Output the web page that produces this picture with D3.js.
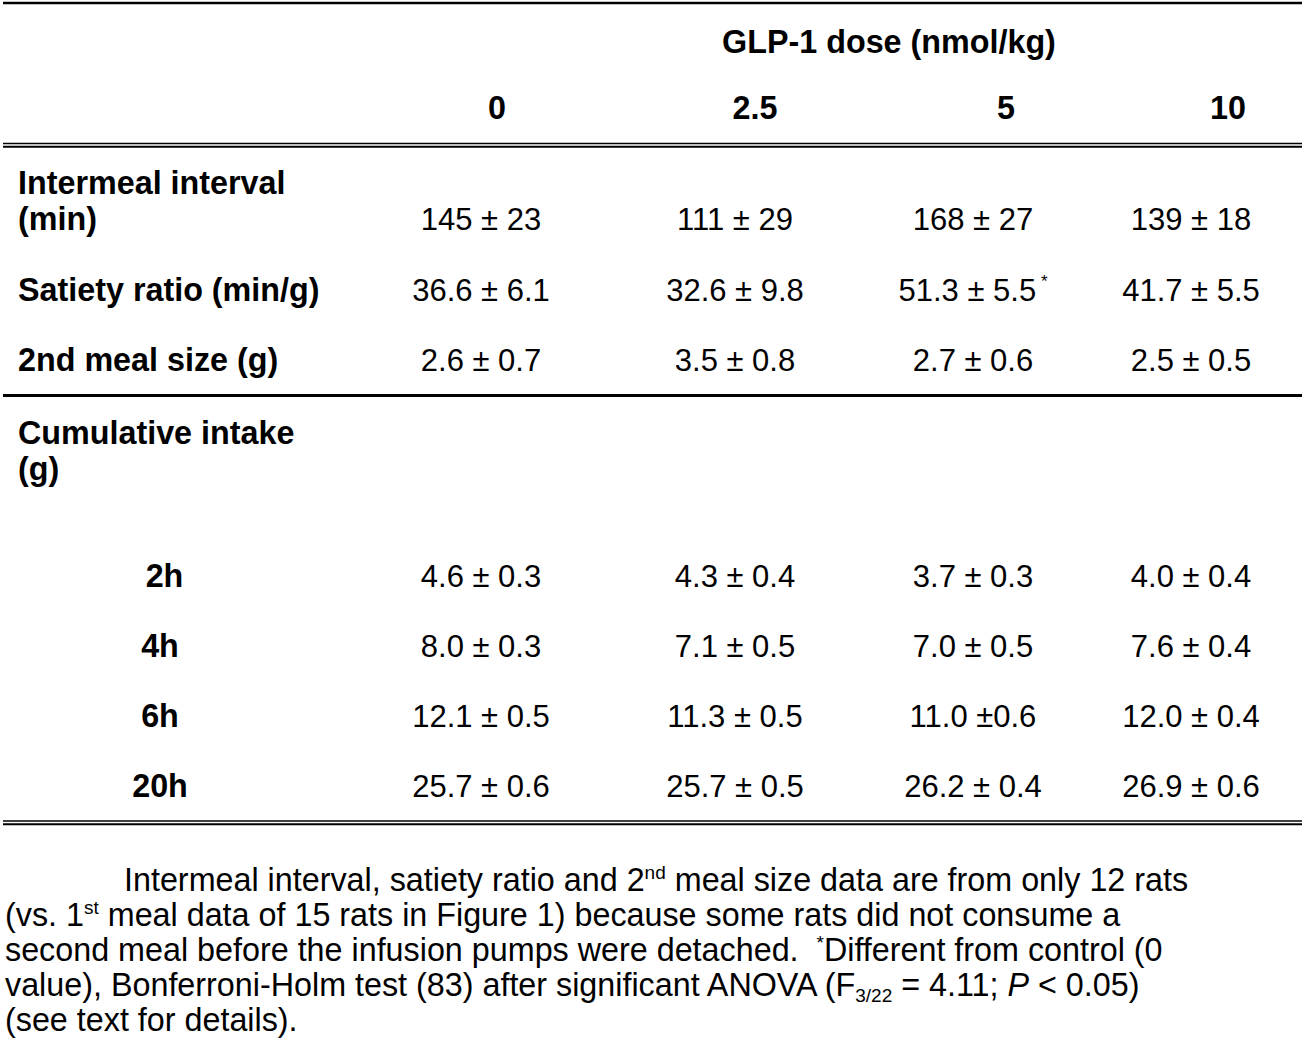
<!DOCTYPE html>
<html>
<head>
<meta charset="utf-8">
<script src="https://cdn.jsdelivr.net/npm/d3@7"></script>
<style>
  html, body { margin: 0; padding: 0; background: #fff; }
  svg { display: block; }
  text { font-family: "Liberation Sans", Arial, Helvetica, sans-serif; fill: #000; white-space: pre; }
</style>
</head>
<body>
<div id="table"></div>
<script>
// column headers
const doseTitle = 'GLP-1 dose (nmol/kg)';
const doses = ['0', '2.5', '5', '10'];

// table rows: label lines and cell text per dose
const intermealLabel = ['Intermeal interval', '(min)'];
const intermeal = ['145 ± 23', '111 ± 29', '168 ± 27', '139 ± 18'];

const satietyLabel = ['Satiety ratio (min/g)'];
const satiety = ['36.6 ± 6.1', '32.6 ± 9.8', '51.3 ± 5.5', '41.7 ± 5.5'];
const satietySig = [false, false, true, false];

const mealLabel = ['2nd meal size (g)'];
const mealSize = ['2.6 ± 0.7', '3.5 ± 0.8', '2.7 ± 0.6', '2.5 ± 0.5'];

const cumulativeLabel = ['Cumulative intake', '(g)'];
const hours = [' 2h', '4h', '6h', '20h'];
const intake2h = ['4.6 ± 0.3', '4.3 ± 0.4', '3.7 ± 0.3', '4.0 ± 0.4'];
const intake4h = ['8.0 ± 0.3', '7.1 ± 0.5', '7.0 ± 0.5', '7.6 ± 0.4'];
const intake6h = ['12.1 ± 0.5', '11.3 ± 0.5', '11.0 ±0.6', '12.0 ± 0.4'];
const intake20h = ['25.7 ± 0.6', '25.7 ± 0.5', '26.2 ± 0.4', '26.9 ± 0.6'];

const W = 1302, H = 1048;
const fs = 31;      // cell values
const fsBold = 32.3; // labels and headers

const svg = d3.select('#table').append('svg')
    .attr('width', W)
    .attr('height', H);

// column positions
const xHead = d3.scaleOrdinal().domain(doses).range([497, 755, 1006, 1228]);
const xCell = d3.scaleOrdinal().domain(doses).range([481, 735, 973, 1191]);

// rules
function rule(y, w) {
    svg.append('line')
        .attr('x1', 3).attr('x2', W)
        .attr('y1', y).attr('y2', y)
        .attr('stroke', '#000')
        .attr('stroke-width', w);
}
rule(3, 2.6);
rule(143.6, 1.5);
rule(146.8, 2);
rule(395.6, 3);
rule(821, 1.5);
rule(824.2, 2);

// header
svg.append('text')
    .attr('x', 889).attr('y', 53)
    .attr('text-anchor', 'middle')
    .attr('font-weight', 'bold')
    .attr('font-size', fsBold)
    .text(doseTitle);

svg.selectAll('text.dose')
    .data(doses)
    .join('text')
    .attr('class', 'dose')
    .attr('x', d => xHead(d))
    .attr('y', 119)
    .attr('text-anchor', 'middle')
    .attr('font-weight', 'bold')
    .attr('font-size', fsBold)
    .text(d => d);

// body rows
const rows = [
    { label: intermealLabel, y: 194, cells: intermeal, cellY: 230 },
    { label: satietyLabel, y: 301, cells: satiety, cellY: 301, sig: satietySig },
    { label: mealLabel, y: 371, cells: mealSize, cellY: 371 },
    { label: cumulativeLabel, y: 444, cells: null },
    { sub: hours[0], y: 587, cells: intake2h, cellY: 587 },
    { sub: hours[1], y: 657, cells: intake4h, cellY: 657 },
    { sub: hours[2], y: 727, cells: intake6h, cellY: 727 },
    { sub: hours[3], y: 797, cells: intake20h, cellY: 797 }
];

rows.forEach(r => {
    if (r.label) {
        r.label.forEach((line, i) => {
            svg.append('text')
                .attr('x', 18)
                .attr('y', r.y + i * 36)
                .attr('font-weight', 'bold')
                .attr('font-size', fsBold)
                .text(line);
        });
    }
    if (r.sub) {
        svg.append('text')
            .attr('x', 160)
            .attr('y', r.y)
            .attr('text-anchor', 'middle')
            .attr('font-weight', 'bold')
            .attr('font-size', fsBold)
            .text(r.sub);
    }
    if (r.cells) {
        const t = svg.append('g').selectAll('text')
            .data(r.cells)
            .join('text')
            .attr('x', (d, i) => xCell(doses[i]))
            .attr('y', r.cellY)
            .attr('text-anchor', 'middle')
            .attr('font-size', fs);
        t.append('tspan').text(d => d);
        t.filter((d, i) => r.sig && r.sig[i])
            .append('tspan')
            .attr('font-size', 17)
            .attr('dy', -14)
            .text(' *');
    }
});

// footnote
const noteSize = 32.3;
const noteLines = [
    { x: 124, y: 891, parts: [['Intermeal interval, satiety ratio and 2'], ['nd', 'sup'], [' meal size data are from only 12 rats']] },
    { x: 5, y: 926, parts: [['(vs. 1'], ['st', 'sup'], [' meal data of 15 rats in Figure 1) because some rats did not consume a']] },
    { x: 5, y: 961, parts: [['second meal before the infusion pumps were detached.  '], ['*', 'sup'], ['Different from control (0']] },
    { x: 5, y: 996, parts: [['value), Bonferroni-Holm test (83) after significant ANOVA (F'], ['3/22', 'sub'], [' = 4.11; '], ['P', 'it'], [' < 0.05)']] },
    { x: 5, y: 1031, parts: [['(see text for details).']] }
];

const shifts = { sup: -12, sub: 6 };

noteLines.forEach(l => {
    const t = svg.append('text')
        .attr('x', l.x)
        .attr('y', l.y)
        .attr('font-size', noteSize);
    let cur = 0;
    l.parts.forEach(([s, kind]) => {
        const target = shifts[kind] || 0;
        const sp = t.append('tspan').text(s);
        if (target !== cur) sp.attr('dy', target - cur);
        cur = target;
        if (kind === 'sup' || kind === 'sub') sp.attr('font-size', 19);
        if (kind === 'it') sp.attr('font-style', 'italic');
    });
});
</script>
</body>
</html>
